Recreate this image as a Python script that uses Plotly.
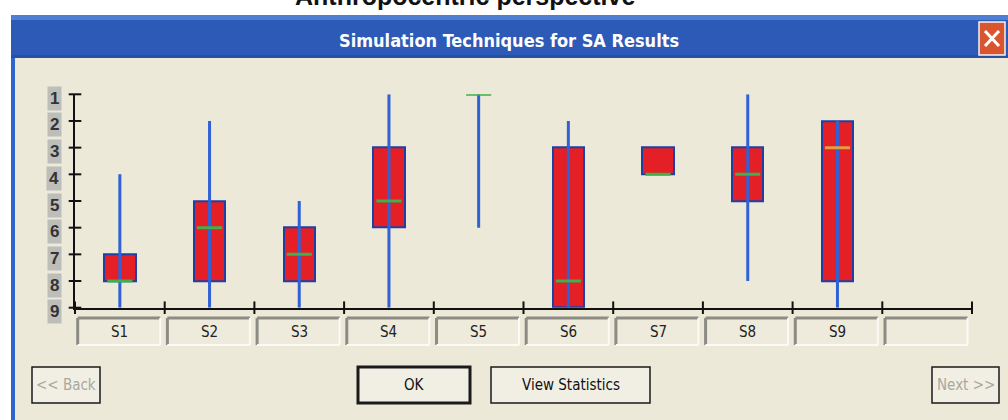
import plotly.graph_objects as go

# ---------------- data ----------------
categories = ["S1", "S2", "S3", "S4", "S5", "S6", "S7", "S8", "S9", ""]
whisker_low = [4, 2, 5, 1, 1, 2, None, 1, 2]      # top end of whisker (rank)
whisker_high = [9, 9, 9, 9, 6, 9, None, 8, 9]     # bottom end of whisker (rank)
box_low = [7, 5, 6, 3, None, 3, 3, 3, 2]          # top edge of box
box_high = [8, 8, 8, 6, None, 9, 4, 5, 8]         # bottom edge of box
medians = [8, 6, 7, 5, 1, 8, 4, 4, 3]
median_colors = ["#3FB04A", "#3FB04A", "#3FB04A", "#3FB04A", "#3FB04A",
                 "#3FB04A", "#3FB04A", "#3FB04A", "#E0A040"]
y_ticks = [1, 2, 3, 4, 5, 6, 7, 8, 9]
y_tick_labels = ["1", "2", "3", "4", "5", "6", "7", "8", "9"]
buttons = ["<< Back", "OK", "View Statistics", "Next >>"]
page_title = "Anthropocentric perspective"
window_title = "Simulation Techniques for SA Results"

W, H = 1008, 420
def px(x): return x / W
def py(y): return 1 - y / H

BEIGE = "#ECE9D8"
NARROW = "Liberation Sans Narrow, Arial Narrow, DejaVu Sans Condensed, Arial"
centers = [i + 0.5 for i in range(len(categories))]

fig = go.Figure()

# boxes
bx, bbase, bh = [], [], []
for i in range(9):
    if box_low[i] is not None:
        bx.append(centers[i]); bbase.append(box_low[i]); bh.append(box_high[i] - box_low[i])
fig.add_trace(go.Bar(x=bx, y=bh, base=bbase, width=0.35,
                     marker=dict(color="#E41F26", line=dict(color="#1E3FA6", width=2)),
                     hoverinfo="skip", showlegend=False))

# whiskers
wx, wy = [], []
for i in range(9):
    if whisker_low[i] is not None:
        wx += [centers[i], centers[i], None]
        wy += [whisker_low[i], whisker_high[i], None]
fig.add_trace(go.Scatter(x=wx, y=wy, mode="lines", line=dict(color="#2F62D6", width=3),
                         hoverinfo="skip", showlegend=False, cliponaxis=False))

# medians
for i in range(9):
    fig.add_trace(go.Scatter(x=[centers[i] - 0.14, centers[i] + 0.14], y=[medians[i], medians[i]],
                             mode="lines", line=dict(color=median_colors[i], width=3),
                             hoverinfo="skip", showlegend=False, cliponaxis=False))

# tick marks crossing axes
fig.add_trace(go.Scatter(x=[0] * len(y_ticks), y=y_ticks, mode="markers",
                         marker=dict(symbol="line-ew", size=9, line=dict(color="#111", width=2)),
                         hoverinfo="skip", showlegend=False, cliponaxis=False))
fig.add_trace(go.Scatter(x=list(range(len(categories) + 1)), y=[9] * (len(categories) + 1),
                         mode="markers",
                         marker=dict(symbol="line-ns", size=9, line=dict(color="#111", width=2)),
                         hoverinfo="skip", showlegend=False, cliponaxis=False))

shapes = []
# window frame
shapes.append(dict(type="rect", xref="paper", yref="paper", x0=px(11), x1=px(1008), y0=py(420), y1=py(15),
                   fillcolor="#2E66CC", line=dict(width=0), layer="below"))
shapes.append(dict(type="rect", xref="paper", yref="paper", x0=px(15), x1=px(1008), y0=py(420), y1=py(58),
                   fillcolor=BEIGE, line=dict(width=0), layer="below"))
# title bar bands
shapes.append(dict(type="rect", xref="paper", yref="paper", x0=px(11), x1=px(1008), y0=py(58), y1=py(15),
                   fillcolor="#2D5AB6", line=dict(width=0), layer="below"))
shapes.append(dict(type="rect", xref="paper", yref="paper", x0=px(11), x1=px(1008), y0=py(20), y1=py(15),
                   fillcolor="#4F7FD4", line=dict(width=0), layer="below"))
shapes.append(dict(type="rect", xref="paper", yref="paper", x0=px(11), x1=px(1008), y0=py(58), y1=py(55),
                   fillcolor="#264FA6", line=dict(width=0), layer="below"))
# close button
shapes.append(dict(type="rect", xref="paper", yref="paper", x0=px(979), x1=px(1005), y0=py(55), y1=py(22),
                   fillcolor="#D9552F", line=dict(color="#F4F4F4", width=1.5)))
shapes.append(dict(type="line", xref="paper", yref="paper", x0=px(985), x1=px(999), y0=py(31), y1=py(46),
                   line=dict(color="white", width=3)))
shapes.append(dict(type="line", xref="paper", yref="paper", x0=px(985), x1=px(999), y0=py(46), y1=py(31),
                   line=dict(color="white", width=3)))
# x-axis extension arrow
shapes.append(dict(type="line", xref="x", yref="y", x0=10, x1=10.18, y0=9, y1=9,
                   line=dict(color="#111", width=2)))

# category label boxes (sunken)
for i in range(len(categories)):
    x0, x1 = i + 0.03, i + 0.95
    y0, y1 = py(345), py(318)
    shapes.append(dict(type="rect", xref="x", yref="paper", x0=x0, x1=x1, y0=y0, y1=y1,
                       fillcolor="#EEEBDD", line=dict(width=0)))
    shapes.append(dict(type="line", xref="x", yref="paper", x0=x0, x1=x1, y0=y1, y1=y1,
                       line=dict(color="#8C8C84", width=3)))
    shapes.append(dict(type="line", xref="x", yref="paper", x0=x0, x1=x0, y0=y0, y1=y1,
                       line=dict(color="#8C8C84", width=3)))
    shapes.append(dict(type="line", xref="x", yref="paper", x0=x0, x1=x1, y0=y0, y1=y0,
                       line=dict(color="#FBFAF4", width=2)))
    shapes.append(dict(type="line", xref="x", yref="paper", x0=x1, x1=x1, y0=y0, y1=y1,
                       line=dict(color="#FBFAF4", width=2)))

# buttons
btn_geom = [(32, 100, 1.5, "#A9A8A0"), (358, 470, 3, "#111"), (491, 650, 1.5, "#111"), (932, 999, 1.5, "#A9A8A0")]
annotations = []
for label, (x0, x1, lw, tc) in zip(buttons, btn_geom):
    shapes.append(dict(type="rect", xref="paper", yref="paper", x0=px(x0), x1=px(x1), y0=py(403), y1=py(367),
                       fillcolor="#F1EFE4", line=dict(color="#1A1A1A", width=lw)))
    annotations.append(dict(text=label, xref="paper", yref="paper", x=px((x0 + x1) / 2), y=py(385),
                            showarrow=False, xanchor="center", yanchor="middle",
                            font=dict(family=NARROW, size=15, color=tc)))

# category labels
for i, c in enumerate(categories):
    if c:
        annotations.append(dict(text=c, xref="x", yref="paper", x=centers[i], y=py(332),
                                showarrow=False, xanchor="center", yanchor="middle",
                                font=dict(family=NARROW, size=15, color="#222")))

# y tick labels with grey background
for v, t in zip(y_ticks, y_tick_labels):
    annotations.append(dict(text="<b>%s</b>" % t, xref="paper", yref="y", x=px(54), y=v, yshift=-4,
                            showarrow=False, xanchor="center", yanchor="middle",
                            bgcolor="#BDBDBA", borderpad=2,
                            font=dict(family="Arial", size=17, color="#333")))

# titles
annotations.append(dict(text="<b>%s</b>" % window_title, xref="paper", yref="paper", x=px(509), y=py(40),
                        showarrow=False, xanchor="center", yanchor="middle",
                        font=dict(family=NARROW, size=18, color="white")))
annotations.append(dict(text="<b>%s</b>" % page_title, xref="paper", yref="paper", x=px(465), y=py(12),
                        showarrow=False, xanchor="center", yanchor="bottom",
                        font=dict(family="Arial", size=25, color="#111")))

fig.update_layout(
    width=W, height=H, margin=dict(l=0, r=0, t=0, b=0),
    paper_bgcolor="white", plot_bgcolor="rgba(0,0,0,0)",
    shapes=shapes, annotations=annotations, bargap=0,
    xaxis=dict(range=[0, 10], domain=[px(75), px(972)], showline=True, linecolor="#111", linewidth=2,
               showticklabels=False, ticks="", showgrid=False, zeroline=False, fixedrange=True),
    yaxis=dict(range=[9, 1], domain=[py(307.7), py(94.3)], showline=True, linecolor="#111", linewidth=2,
               showticklabels=False, ticks="", showgrid=False, zeroline=False, fixedrange=True),
)

fig.write_html("out.html", config={"displayModeBar": False},
               post_script="document.body.style.margin='0';document.body.style.overflow='hidden';")
